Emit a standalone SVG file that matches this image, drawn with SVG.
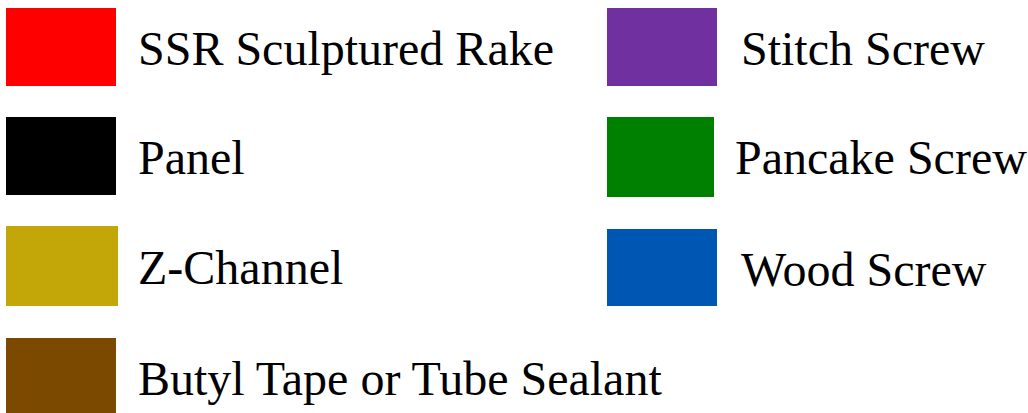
<svg xmlns="http://www.w3.org/2000/svg" width="1028" height="413" viewBox="0 0 1028 413">
<style>
text{font-family:"Liberation Serif","Times New Roman",serif;font-size:48px;fill:#000}
</style>
<rect width="1028" height="413" fill="#fff"/>
<g id="ssr"><rect x="6" y="8" width="110" height="78" fill="#FF0000"/><text x="138" y="65">SSR Sculptured Rake</text></g>
<g id="panel"><rect x="6" y="117" width="110" height="78" fill="#000000"/><text x="138" y="174">Panel</text></g>
<g id="zchannel"><rect x="6" y="226" width="112" height="80" fill="#C3A607"/><text x="138" y="284">Z-Channel</text></g>
<g id="butyl"><rect x="6" y="338" width="110" height="75" fill="#7B4A00"/><text x="138" y="395">Butyl Tape or Tube Sealant</text></g>
<g id="stitch"><rect x="607" y="8" width="110" height="78" fill="#7030A0"/><text x="741" y="65">Stitch Screw</text></g>
<g id="pancake"><rect x="607" y="117" width="107" height="80" fill="#008000"/><text x="735" y="174">Pancake Screw</text></g>
<g id="wood"><rect x="607" y="229" width="110" height="77" fill="#0056B3"/><text x="741" y="286">Wood Screw</text></g>
<g id="connectors"/>
</svg>
